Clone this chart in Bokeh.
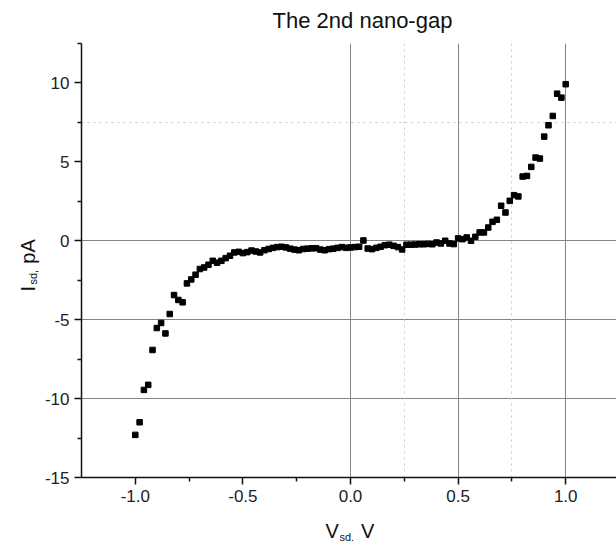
import math
from bokeh.plotting import figure
from bokeh.models import Label, FixedTicker, Grid, Range1d
from bokeh.embed import file_html
from bokeh.resources import INLINE

# ---- data ----
v_sd = [-1.00, -0.98, -0.96, -0.94, -0.92, -0.90, -0.88, -0.86, -0.84, -0.82,
        -0.80, -0.78, -0.76, -0.74, -0.72, -0.70, -0.68, -0.66, -0.64, -0.62,
        -0.60, -0.58, -0.56, -0.54, -0.52, -0.50, -0.48, -0.46, -0.44, -0.42,
        -0.40, -0.38, -0.36, -0.34, -0.32, -0.30, -0.28, -0.26, -0.24, -0.22,
        -0.20, -0.18, -0.16, -0.14, -0.12, -0.10, -0.08, -0.06, -0.04, -0.02,
        0.00, 0.02, 0.04, 0.06, 0.08, 0.10, 0.12, 0.14, 0.16, 0.18,
        0.20, 0.22, 0.24, 0.26, 0.28, 0.30, 0.32, 0.34, 0.36, 0.38,
        0.40, 0.42, 0.44, 0.46, 0.48, 0.50, 0.52, 0.54, 0.56, 0.58,
        0.60, 0.62, 0.64, 0.66, 0.68, 0.70, 0.72, 0.74, 0.76, 0.78,
        0.80, 0.82, 0.84, 0.86, 0.88, 0.90, 0.92, 0.94, 0.96, 0.98, 1.00]
i_sd = [-12.30, -11.50, -9.45, -9.13, -6.92, -5.53, -5.21, -5.87, -4.64, -3.44,
        -3.75, -3.90, -2.70, -2.45, -2.15, -1.79, -1.69, -1.52, -1.27, -1.39,
        -1.27, -1.10, -0.95, -0.74, -0.70, -0.78, -0.72, -0.62, -0.68, -0.74,
        -0.60, -0.52, -0.45, -0.40, -0.38, -0.42, -0.50, -0.56, -0.60, -0.52,
        -0.50, -0.48, -0.47, -0.56, -0.60, -0.53, -0.50, -0.45, -0.40, -0.45,
        -0.42, -0.40, -0.38, 0.02, -0.49, -0.53, -0.45, -0.38, -0.28, -0.25,
        -0.32, -0.40, -0.55, -0.25, -0.25, -0.24, -0.22, -0.22, -0.20, -0.22,
        -0.11, -0.17, 0.00, -0.17, -0.21, 0.15, 0.10, 0.21, 0.00, 0.25,
        0.53, 0.53, 0.84, 1.20, 1.33, 2.22, 1.79, 2.53, 2.89, 2.81,
        4.07, 4.11, 4.68, 5.27, 5.21, 6.60, 7.32, 7.91, 9.32, 9.07, 9.92]

x_major = [-1.0, -0.5, 0.0, 0.5, 1.0]
x_major_labels = ["-1.0", "-0.5", "0.0", "0.5", "1.0"]
x_minor = [-0.75, -0.25, 0.25, 0.75]
y_major = [-15, -10, -5, 0, 5, 10]
y_major_labels = ["-15", "-10", "-5", "0", "5", "10"]
y_minor = [-12.5, -7.5, -2.5, 2.5, 7.5, 12.5]
x_grid_solid = [0.0, 0.5, 1.0]
x_grid_dotted = [0.25, 0.75]
y_grid_solid = [-10, -5, 0]
y_grid_dotted = [7.5]

title_text = "The 2nd nano-gap"
NB = "\u00a0"
font = "Liberation Sans"

p = figure(width=616, height=548,
           x_range=Range1d(-1.25, 1.236), y_range=Range1d(-15, 12.5),
           output_backend="svg", toolbar_location=None,
           min_border_left=81, min_border_right=0,
           min_border_top=43, min_border_bottom=71)
p.outline_line_color = None
p.background_fill_color = "white"
p.border_fill_color = "white"

# grids
p.xgrid.ticker = FixedTicker(ticks=x_grid_solid)
p.ygrid.ticker = FixedTicker(ticks=y_grid_solid)
for g in (p.xgrid[0], p.ygrid[0]):
    g.grid_line_color = "#858585"
    g.grid_line_width = 1
p.add_layout(Grid(dimension=0, ticker=FixedTicker(ticks=x_grid_dotted),
                  grid_line_color="#c8c8c8", grid_line_dash="dotted",
                  grid_line_width=1))
p.add_layout(Grid(dimension=1, ticker=FixedTicker(ticks=y_grid_dotted),
                  grid_line_color="#c8c8c8", grid_line_dash="dotted",
                  grid_line_width=1))

# axes
p.xaxis.ticker = FixedTicker(ticks=x_major, minor_ticks=x_minor)
p.yaxis.ticker = FixedTicker(ticks=y_major, minor_ticks=y_minor)
p.xaxis.major_label_overrides = dict(zip(x_major, x_major_labels))
p.yaxis.major_label_overrides = dict(zip(y_major, y_major_labels))
for ax in (p.xaxis[0], p.yaxis[0]):
    ax.axis_line_color = "#111111"
    ax.axis_line_width = 1.5
    ax.major_tick_line_color = "#111111"
    ax.minor_tick_line_color = "#111111"
    ax.major_tick_line_width = 1.5
    ax.minor_tick_line_width = 1.5
    ax.major_tick_in = 0
    ax.major_tick_out = 7
    ax.minor_tick_in = 0
    ax.minor_tick_out = 4
    ax.major_label_text_font = font
    ax.major_label_text_font_size = "17px"
    ax.major_label_text_color = "#222222"
    ax.major_label_standoff = 5

p.scatter(v_sd, i_sd, marker="square", size=5.5, color="black")

x0, y0 = p.x_range.start, p.y_range.start


def add_text(txt, dx, dy, size, side, angle=0.0, align="left"):
    p.add_layout(Label(x=x0, y=y0, x_offset=dx, y_offset=dy, text=txt,
                       text_font=font, text_font_size=size,
                       text_color="#111111", angle=angle,
                       text_align=align, text_baseline="alphabetic"), side)


# title
add_text(title_text, 281, 457, "22px", "above", align="center")
# x axis label  V_sd. V
add_text("V" + NB * 4 + "V", 244, -53, "20px", "below")
add_text("sd.", 258, -59, "11px", "below")
# y axis label  I_sd, pA
rot = math.pi / 2
add_text("I" + NB * 4 + "pA", -54, 186, "20px", "left", angle=rot)
add_text("sd,", -49, 193, "11px", "left", angle=rot)

open("out.html", "w").write(file_html(p, INLINE))
